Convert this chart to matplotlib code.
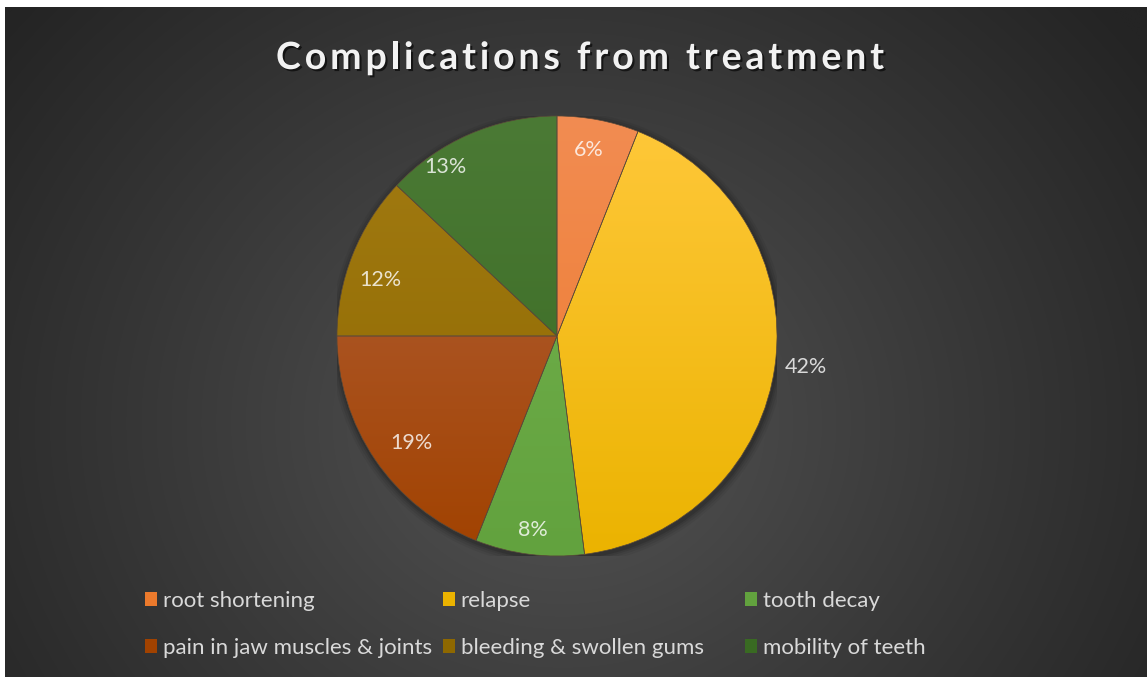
"""Pie chart of complications from treatment, dark Office style."""

import matplotlib

matplotlib.use("Agg")
import matplotlib.pyplot as plt
import matplotlib.patheffects as pe
import numpy as np
from matplotlib.colors import to_rgb
from matplotlib.patches import Circle

title = "Complications from treatment"
categories = [
    "root shortening",
    "relapse",
    "tooth decay",
    "pain in jaw muscles & joints",
    "bleeding & swollen gums",
    "mobility of teeth",
]
shares = [6, 42, 8, 19, 12, 13]

# top / bottom shades of the slice gradients
top_colors = ["#f28c52", "#ffc83a", "#74b24e", "#b3633f", "#a27b12", "#4b7a35"]
bottom_colors = ["#ec7a2c", "#ebb300", "#62a23e", "#a14200", "#8e6800", "#396a22"]
# data label placement (radius fraction, angle nudge in degrees)
label_dist = [0.86, 1.14, 0.89, 0.82, 0.84, 0.92]
label_nudge = [1, 0, 0, 2, 4, 10]

W, H = 1147, 677
plt.rcParams["font.family"] = ["Lato", "DejaVu Sans"]

fig = plt.figure(figsize=(W / 100, H / 100), dpi=100, facecolor="white")

# radial background
bg = fig.add_axes([5 / W, 0, 1 - 5 / W, 1 - 7 / H])
yy, xx = np.mgrid[0:H, 0:W]
d = np.hypot((xx - 560) / 1.0, (yy - 420) / 0.9)
t = np.clip(d / 720, 0, 1) ** 0.9
c0, c1 = np.array(to_rgb("#565656")), np.array(to_rgb("#242424"))
img = c0[None, None, :] * (1 - t[..., None]) + c1[None, None, :] * t[..., None]
bg.imshow(img, aspect="auto", extent=(0, W, H, 0))
bg.set_axis_off()

# pie axes: centre (557, 336) px, radius 220 px
cx, cy, r = 557, 336, 220
ax = fig.add_axes([(cx - r) / W, (H - cy - r) / H, 2 * r / W, 2 * r / H])
ax.set_xlim(-1, 1)
ax.set_ylim(-1, 1)
ax.set_aspect("equal")
ax.set_axis_off()

# soft shadow round the pie
for k, a in zip([1.035, 1.025, 1.015, 1.007], [0.05, 0.07, 0.09, 0.12]):
    ax.add_patch(Circle((0.005, -0.012), k, color="black", alpha=a, lw=0, zorder=0))

wedges, _ = ax.pie(
    shares,
    startangle=90,
    counterclock=False,
    radius=1,
    wedgeprops=dict(edgecolor="#5a4a3a", linewidth=0.5),
)

for w, top, bot, dist, nudge, pct in zip(
    wedges, top_colors, bottom_colors, label_dist, label_nudge, shares
):
    grad = np.linspace(0, 1, 256)[:, None, None]
    a, b = np.array(to_rgb(top)), np.array(to_rgb(bot))
    fill = a * (1 - grad) + b * grad
    im = ax.imshow(fill, extent=(-1, 1, -1, 1), aspect="auto", zorder=2)
    im.set_clip_path(w)
    w.set_facecolor("none")
    w.set_zorder(3)

    mid = np.deg2rad((w.theta1 + w.theta2) / 2 + nudge)
    inside = dist < 1
    ax.text(
        dist * np.cos(mid),
        dist * np.sin(mid),
        f"{pct}%",
        ha="center",
        va="center",
        fontsize=15.5,
        color="#ffffff" if inside else "#d9d9d9",
        alpha=0.8 if inside else 1,
        zorder=4,
    )

ax.set_xlim(-1, 1)
ax.set_ylim(-1, 1)

# title with wide letter spacing, drawn glyph by glyph
renderer = fig.canvas.get_renderer()
title_kw = dict(fontsize=27, fontweight="bold", color="#f2f2f2", va="center", ha="left")
shadow = [pe.withSimplePatchShadow(offset=(1.5, -1.5), shadow_rgbFace="black", alpha=0.6)]


def _width(s):
    tmp = fig.text(0, 0, s, **title_kw)
    wpx = tmp.get_window_extent(renderer).width
    tmp.remove()
    return wpx


space_w = _width("a a") - _width("aa")
widths = [space_w if ch == " " else _width(ch) for ch in title]
left_px, right_px = 276, 884
track = (right_px - left_px - sum(widths)) / (len(title) - 1)
x = left_px
for ch, wpx in zip(title, widths):
    if ch != " ":
        fig.text(x / W, 1 - 58 / H, ch, path_effects=shadow, **title_kw)
    x += wpx + track

# legend: three columns of two entries each
col_x = [145, 443, 745]
for ci, x in enumerate(col_x):
    idx = [ci, ci + 3]
    proxies = [
        plt.Rectangle((0, 0), 1, 1, facecolor=bottom_colors[i], edgecolor="none") for i in idx
    ]
    fig.legend(
        proxies,
        [categories[i] for i in idx],
        loc="upper left",
        bbox_to_anchor=(x / W, 1 - 591 / H),
        frameon=False,
        fontsize=16,
        labelcolor="#d9d9d9",
        handlelength=0.55,
        handleheight=0.55,
        handletextpad=0.25,
        labelspacing=1.2,
        borderaxespad=0,
        borderpad=0,
    )

fig.savefig("out.png", dpi=100, facecolor="white")
